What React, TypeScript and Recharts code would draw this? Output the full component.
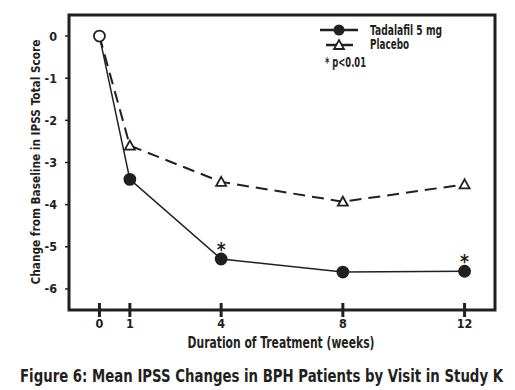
import { LineChart, Line, XAxis, YAxis, ReferenceArea } from 'recharts';

const INK = '#231f20';
const FONT = '"Liberation Sans Narrow", "DejaVu Sans Condensed", "Arial Narrow", sans-serif';

// weeks of treatment and mean change from baseline in IPSS total score
const weeks = [0, 1, 4, 8, 12];
const tadalafil = [0, -3.4, -5.29, -5.6, -5.58];
const placebo = [0, -2.6, -3.46, -3.93, -3.52];
const significant = [false, false, true, false, true]; // * p<0.01
const xTicks = [0, 1, 4, 8, 12];
const yTicks = [0, -1, -2, -3, -4, -5, -6];

const data = weeks.map((w, i) => ({
  week: w,
  tadalafil: tadalafil[i],
  placebo: placebo[i],
  sig: significant[i],
}));

const txt = { fill: INK, fontFamily: FONT, fontWeight: 'bold' as const };

const XTick = ({ x, y, payload }: any) => (
  <g>
    <line x1={x} x2={x} y1={y - 7} y2={y + 7} stroke={INK} strokeWidth={3} />
    <text x={x} y={y + 18} textAnchor="middle" fontSize={12.5} {...txt}>
      {payload.value}
    </text>
  </g>
);

const YTick = ({ x, y, payload }: any) => (
  <g>
    <line x1={x - 4} x2={x + 1} y1={y} y2={y} stroke={INK} strokeWidth={1.5} />
    <text x={x - 12} y={y + 4.5} textAnchor="end" fontSize={12.5} {...txt}>
      {payload.value}
    </text>
  </g>
);

const TadalafilDot = (props: any) => {
  const { cx, cy, index, payload } = props;
  if (cx == null || cy == null) return null;
  return (
    <g key={`t-${index}`}>
      <circle cx={cx} cy={cy} r={5.5} fill={index === 0 ? '#fff' : INK} stroke={INK} strokeWidth={1.8} />
      {payload.sig && (
        <text x={cx} y={cy - 3} textAnchor="middle" fontSize={19} {...txt}>
          *
        </text>
      )}
    </g>
  );
};

const PlaceboDot = (props: any) => {
  const { cx, cy, index } = props;
  if (cx == null || cy == null || index === 0) return null;
  return (
    <polygon
      key={`p-${index}`}
      points={`${cx - 5},${cy + 4} ${cx + 5},${cy + 4} ${cx},${cy - 5}`}
      fill="#fff"
      stroke={INK}
      strokeWidth={1.8}
    />
  );
};

// narrow bold text: squeeze horizontally so it fits the width seen in the figure
const Narrow = ({ x, y, rotate = 0, width, size, children }: any) => {
  const s = 0.8;
  return (
    <text
      x={0}
      y={0}
      transform={`translate(${x} ${y}) rotate(${rotate}) scale(${s} 1)`}
      textAnchor="middle"
      fontSize={size}
      textLength={width / s}
      lengthAdjust="spacingAndGlyphs"
      {...txt}
    >
      {children}
    </text>
  );
};

const Overlay = () => (
  <svg width={515} height={390} style={{ position: 'absolute', left: 0, top: 0, pointerEvents: 'none' }}>
    {/* legend */}
    <line x1={320} x2={358} y1={30} y2={30} stroke={INK} strokeWidth={2.5} />
    <circle cx={339} cy={30} r={5.5} fill={INK} />
    <Narrow x={406} y={34.5} width={72} size={14}>Tadalafil 5 mg</Narrow>
    <line x1={326} x2={353} y1={45} y2={45} stroke={INK} strokeWidth={2.5} />
    <polygon points="334,49 344,49 339,40" fill="#fff" stroke={INK} strokeWidth={1.8} />
    <Narrow x={389.5} y={49} width={39} size={14}>Placebo</Narrow>
    <Narrow x={345.5} y={67} width={41} size={13.5}>* p&lt;0.01</Narrow>
    {/* axis titles */}
    <Narrow x={40} y={162} rotate={-90} width={245} size={13}>
      Change from Baseline in IPSS Total Score
    </Narrow>
    <Narrow x={281} y={348} width={187} size={15}>
      Duration of Treatment (weeks)
    </Narrow>
    <Narrow x={261.5} y={382} width={483} size={18}>
      Figure 6: Mean IPSS Changes in BPH Patients by Visit in Study K
    </Narrow>
  </svg>
);

export default function App() {
  return (
    <div style={{ position: 'absolute', left: 0, top: 0, width: 515, height: 390, background: '#fff' }}>
      <LineChart width={515} height={390} data={data} margin={{ top: 15, right: 20, bottom: 50, left: 39 }}>
        <ReferenceArea x1={-1} x2={13} y1={-6.5} y2={0.5} fill="none" stroke={INK} strokeWidth={3} />
        <XAxis
          dataKey="week"
          type="number"
          domain={[-1, 13]}
          ticks={xTicks}
          axisLine={false}
          tickLine={false}
          tickSize={0}
          tickMargin={0}
          tick={<XTick />}
          height={30}
          interval={0}
        />
        <YAxis
          type="number"
          domain={[-6.5, 0.5]}
          ticks={yTicks}
          axisLine={false}
          tickLine={false}
          tickSize={0}
          tickMargin={0}
          width={30}
          interval={0}
          tick={<YTick />}
        />
        <Line
          dataKey="placebo"
          stroke={INK}
          strokeWidth={2}
          strokeDasharray="12 7"
          dot={<PlaceboDot />}
          isAnimationActive={false}
        />
        <Line
          dataKey="tadalafil"
          stroke={INK}
          strokeWidth={1.5}
          dot={<TadalafilDot />}
          isAnimationActive={false}
        />
      </LineChart>
      <Overlay />
    </div>
  );
}
